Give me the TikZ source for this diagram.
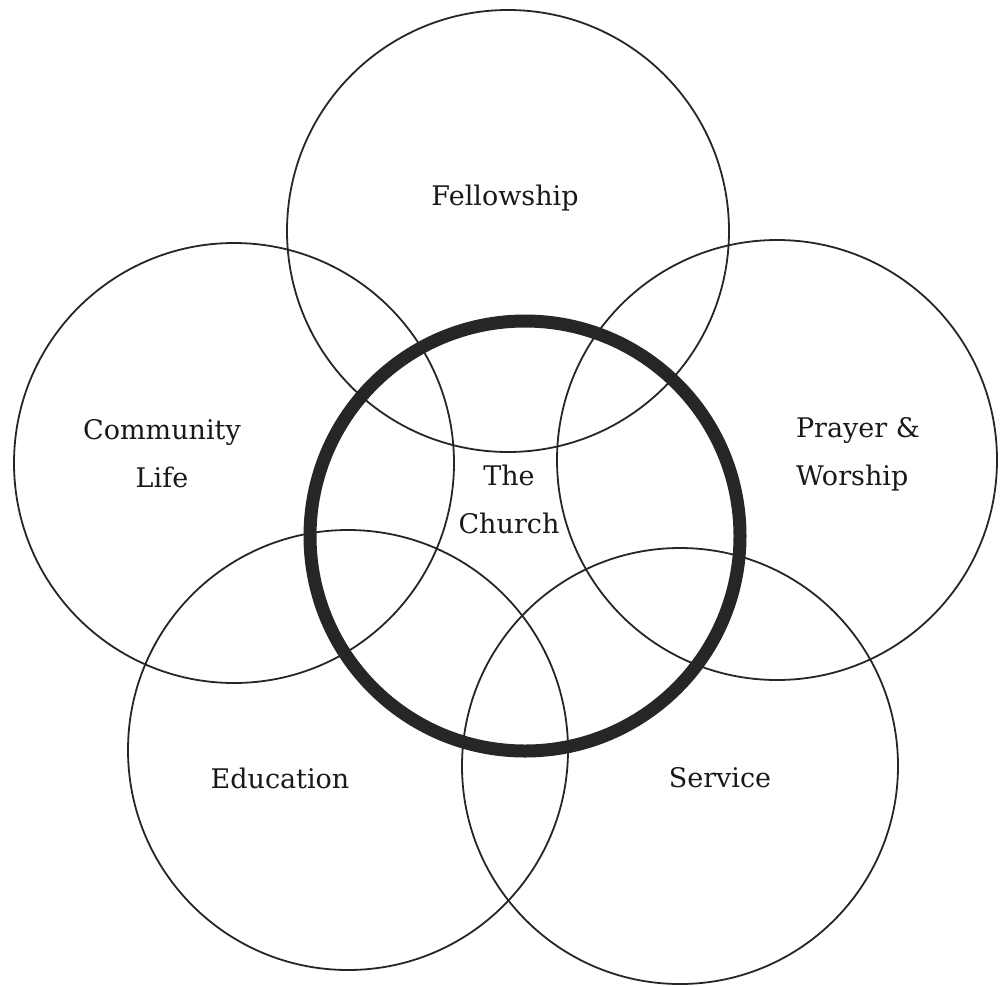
\documentclass[tikz,border=0pt]{standalone}
\usepackage{fontspec}
\setmainfont{DejaVu Serif}
\begin{document}
\begin{tikzpicture}[x=0.5pt,y=-0.5pt,
  ring/.style={draw=black!85, line width=0.9pt},
  churchring/.style={draw=black!85, line width=6.5pt},
  lbl/.style={font=\fontsize{13.5pt}{24pt}\selectfont, inner sep=0pt, anchor=base, text=black!90}]
\useasboundingbox (0,0) rectangle (1005,986);
\draw[ring] (508,231) circle[radius=221];
\draw[ring] (234,463) circle[radius=220];
\draw[ring] (777,460) circle[radius=220];
\draw[ring] (348,750) circle[radius=220];
\draw[ring] (680,766) circle[radius=218];
\draw[churchring] (525,536) circle[radius=215];
\node[lbl] (fel) at (505,205) {Fellowship};
\node[lbl, align=center] (com) at (162,487) {Community\\Life};
\node[lbl, align=left] (pra) at (858,485) {Prayer \&\\Worship};
\node[lbl, align=center] (chu) at (509,533) {The\\Church};
\node[lbl] (edu) at (280,788) {Education};
\node[lbl] (ser) at (720,787) {Service};
\end{tikzpicture}
\end{document}
